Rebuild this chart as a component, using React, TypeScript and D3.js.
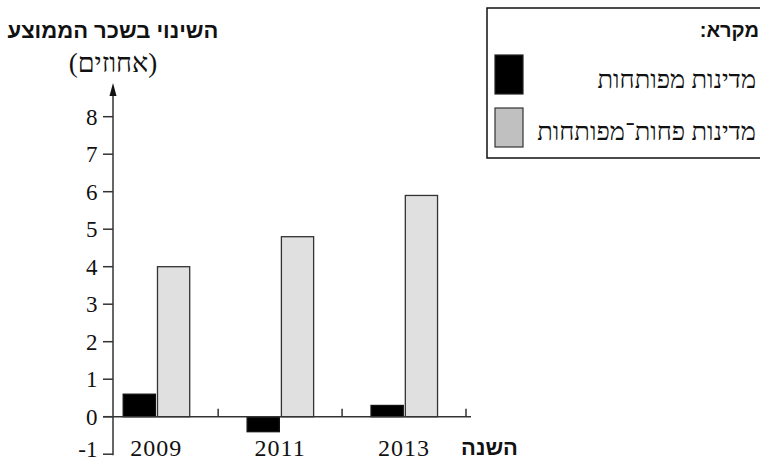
import React from "react";
import * as d3 from "d3";

const years = ["2009", "2011", "2013"];
const seriesNames = ["מדינות מפותחות", "מדינות פחות־מפותחות"];
const developed = [0.6, -0.4, 0.3];
const lessDeveloped = [4.0, 4.8, 5.9];
const yTicks = [-1, 0, 1, 2, 3, 4, 5, 6, 7, 8];
const yTitle = "השינוי בשכר הממוצע";
const yUnit = "(אחוזים)";
const xTitle = "השנה";
const legendTitle = "מקרא:";

const W = 760;
const H = 463;

export default function App() {
  const y = d3.scaleLinear().domain([-1, 8]).range([454.2, 116.7]);
  const x0 = d3.scaleBand<string>().domain(years).range([94.25, 466]);
  const axisX = 113;
  const y0 = y(0);
  const values = [developed, lessDeveloped];
  const fills = ["#000000", "#e0e0e0"];
  const strokes = ["#111111", "#333333"];

  const serif = "'Liberation Serif', 'Times New Roman', serif";
  const sans = "'Liberation Sans', Arial, sans-serif";

  return (
    <svg
      width={W}
      height={H}
      style={{ position: "absolute", left: 0, top: 0, background: "#fff" }}
    >
      {/* bars */}
      {years.map((yr, i) => {
        const c = (x0(yr) as number) + x0.bandwidth() / 2;
        const x1 = d3
          .scaleBand<number>()
          .domain([0, 1])
          .range([c - 33, c + 33.5])
          .paddingInner(0.06);
        return (
          <g key={yr}>
            {values.map((arr, s) => {
              const v = arr[i];
              const top = Math.min(y(v), y0);
              const h = Math.abs(y(v) - y0);
              return (
                <rect
                  key={s}
                  x={x1(s) as number}
                  y={top}
                  width={x1.bandwidth()}
                  height={h}
                  fill={fills[s]}
                  stroke={strokes[s]}
                  strokeWidth={1.3}
                />
              );
            })}
          </g>
        );
      })}

      {/* x axis */}
      <line x1={103} x2={471} y1={y0} y2={y0} stroke="#333" strokeWidth={1.5} />
      {years.map((yr) => {
        const bx = (x0(yr) as number) + x0.step();
        return (
          <line key={yr} x1={bx} x2={bx} y1={y0} y2={y0 - 8} stroke="#333" strokeWidth={1.5} />
        );
      })}
      {years.map((yr) => (
        <text
          key={yr}
          x={(x0(yr) as number) + x0.bandwidth() / 2}
          y={455.5}
          textAnchor="middle"
          fontFamily={serif}
          fontSize={24}
          letterSpacing={1}
          fill="#111"
        >
          {yr}
        </text>
      ))}
      <text
        x={519}
        y={455}
        textAnchor="middle"
        dx={-29.5}
        fontFamily={sans}
        fontWeight="bold"
        fontSize={22}
        fill="#111"
      >
        {xTitle}
      </text>

      {/* y axis */}
      <line x1={axisX} x2={axisX} y1={y(-1) + 1} y2={92} stroke="#333" strokeWidth={1.5} />
      <path
        d={`M${axisX},83 L${axisX - 3.5},96 L${axisX + 3.5},96 Z`}
        fill="#111"
      />
      {yTicks.map((t) => (
        <g key={t}>
          <line x1={axisX - 10} x2={axisX} y1={y(t)} y2={y(t)} stroke="#333" strokeWidth={1.5} />
          <text
            x={97.5}
            y={t === -1 ? 457 : y(t)}
            dy={t === -1 ? 0 : "0.35em"}
            textAnchor="end"
            fontFamily={serif}
            fontSize={23}
            fill="#111"
          >
            {t}
          </text>
        </g>
      ))}
      <text
        x={113}
        y={38}
        textAnchor="middle"
        fontFamily={sans}
        fontWeight="bold"
        fontSize={22}
        fill="#111"
      >
        {yTitle}
      </text>
      <text
        x={113}
        y={72}
        textAnchor="middle"
        fontFamily={serif}
        fontSize={27}
        fill="#111"
      >
        {yUnit}
      </text>

      {/* legend */}
      <rect x={487} y={8} width={290} height={150} fill="none" stroke="#111" strokeWidth={1.5} />
      <text
        x={759}
        y={37}
        direction="rtl"
        textAnchor="start"
        fontFamily={sans}
        fontWeight="bold"
        fontSize={20}
        fill="#111"
      >
        {legendTitle}
      </text>
      <rect x={495} y={55} width={28} height={39} fill="#000" stroke="#222" strokeWidth={1.2} />
      <text x={756} y={88} textAnchor="end" fontFamily={serif} fontSize={25.5} fill="#111">
        {seriesNames[0]}
      </text>
      <rect x={495} y={108} width={28} height={39} fill="#c0c0c0" stroke="#333" strokeWidth={1.2} />
      <text x={756} y={140} textAnchor="end" fontFamily={serif} fontSize={25.5} fill="#111">
        {seriesNames[1]}
      </text>
    </svg>
  );
}
